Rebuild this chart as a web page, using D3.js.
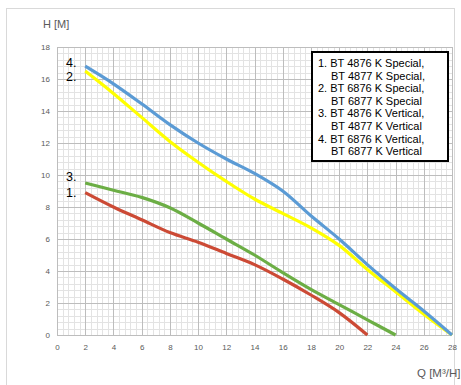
<!DOCTYPE html>
<html>
<head>
<meta charset="utf-8">
<script src="https://cdn.jsdelivr.net/npm/d3@7"></script>
<style>
  body { margin: 0; background: #fff; }
  svg { display: block; font-family: "Liberation Sans", Arial, sans-serif; }
</style>
</head>
<body>
<div id="container"></div>
<script>
// <--------- data --------->
let flowTicks = d3.range(0, 29, 2);
let headTicks = d3.range(0, 19, 2);

let curve1 = [[2, 8.9], [4, 8.0], [6, 7.2], [8, 6.4], [10, 5.8], [12, 5.1], [14, 4.4], [16, 3.5], [18, 2.5], [20, 1.4], [22, 0]];
let curve2 = [[2, 16.5], [4, 15.1], [6, 13.6], [8, 12.1], [10, 10.8], [12, 9.6], [14, 8.5], [16, 7.6], [18, 6.7], [20, 5.6], [22, 4.1], [24, 2.7], [26, 1.3], [28, 0]];
let curve3 = [[2, 9.5], [4, 9.05], [6, 8.6], [8, 7.95], [10, 7.0], [12, 6.0], [14, 5.0], [16, 3.9], [18, 2.85], [20, 1.9], [22, 0.95], [24, 0]];
let curve4 = [[2, 16.8], [4, 15.7], [6, 14.45], [8, 13.15], [10, 12.0], [12, 11.0], [14, 10.1], [16, 9.0], [18, 7.45], [20, 6.0], [22, 4.4], [24, 2.9], [26, 1.5], [28, 0]];

let legendLines = [
  "1. BT 4876 K Special,",
  "BT 4877 K Special,",
  "2. BT 6876 K Special,",
  "BT 6877 K Special",
  "3. BT 4876 K Vertical,",
  "BT 4877 K Vertical",
  "4. BT 6876 K Vertical,",
  "BT 6877 K Vertical"
];

let series = [
  { name: "1.", data: curve1, color: "#cc4a35" },
  { name: "3.", data: curve3, color: "#6cae45" },
  { name: "2.", data: curve2, color: "#ffff00" },
  { name: "4.", data: curve4, color: "#5b9bd5" }
];

// <--------- canvas --------->
let W = 461, H = 385;
let viz = d3.select("#container").append("svg")
  .attr("width", W)
  .attr("height", H);

viz.append("rect")
  .attr("x", 6.5).attr("y", 8.5)
  .attr("width", 448).attr("height", 390)
  .attr("fill", "#fff")
  .attr("stroke", "#d9d9d9");

let x = d3.scaleLinear().domain([0, 28]).range([57, 452]);
let y = d3.scaleLinear().domain([0, 18]).range([335, 47]);

// minor grid
let minorX = d3.range(0, 28.01, 0.4);
let minorY = d3.range(0, 18.01, 0.4);
let grid = viz.append("g");
grid.selectAll(".mx").data(minorX).enter().append("line")
  .attr("x1", d => Math.round(x(d)) + 0.5).attr("x2", d => Math.round(x(d)) + 0.5)
  .attr("y1", y(18)).attr("y2", y(0))
  .attr("stroke", "#e3e3e3");
grid.selectAll(".my").data(minorY).enter().append("line")
  .attr("y1", d => Math.round(y(d)) + 0.5).attr("y2", d => Math.round(y(d)) + 0.5)
  .attr("x1", x(0)).attr("x2", x(28))
  .attr("stroke", "#e3e3e3");

// major grid
grid.selectAll(".Mx").data(flowTicks).enter().append("line")
  .attr("x1", d => Math.round(x(d)) + 0.5).attr("x2", d => Math.round(x(d)) + 0.5)
  .attr("y1", y(18)).attr("y2", y(0))
  .attr("stroke", "#bdbdbd");
grid.selectAll(".My").data(headTicks).enter().append("line")
  .attr("y1", d => Math.round(y(d)) + 0.5).attr("y2", d => Math.round(y(d)) + 0.5)
  .attr("x1", x(0)).attr("x2", x(28))
  .attr("stroke", "#bdbdbd");

// axes (labels only)
let xAxis = viz.append("g")
  .attr("transform", "translate(0," + (y(0) + 6) + ")")
  .call(d3.axisBottom(x).tickValues(flowTicks).tickSize(0).tickPadding(3));
let yAxis = viz.append("g")
  .attr("transform", "translate(" + (x(0) - 7) + ",0)")
  .call(d3.axisLeft(y).tickValues(headTicks).tickSize(0).tickPadding(0));
[xAxis, yAxis].forEach(function(a) {
  a.select(".domain").remove();
  a.selectAll("text")
    .attr("fill", "#595959")
    .style("font-size", "8px")
    .style("font-family", "Liberation Sans, Arial, sans-serif");
});

// curves
let line = d3.line()
  .x(d => x(d[0]))
  .y(d => y(d[1]))
  .curve(d3.curveCatmullRom.alpha(0.5));

viz.selectAll(".curve").data(series).enter().append("path")
  .attr("class", "curve")
  .attr("d", d => line(d.data))
  .attr("fill", "none")
  .attr("stroke", d => d.color)
  .attr("stroke-width", 3.2);

// curve numbers
let numberPos = { "4.": 67, "2.": 81, "3.": 181, "1.": 197 };
viz.selectAll(".num").data(series).enter().append("text")
  .attr("x", 66)
  .attr("y", d => numberPos[d.name])
  .text(d => d.name)
  .style("font-size", "12.5px")
  .attr("fill", "#000");

// axis titles
viz.append("text")
  .attr("x", 43).attr("y", 28)
  .text("H [M]")
  .style("font-size", "11px")
  .attr("fill", "#595959");
viz.append("text")
  .attr("x", 417).attr("y", 377)
  .text("Q [M³/H]")
  .style("font-size", "11.5px")
  .attr("fill", "#595959");

// legend
viz.append("rect")
  .attr("x", 312).attr("y", 52)
  .attr("width", 136).attr("height", 109)
  .attr("fill", "#fff")
  .attr("stroke", "#000")
  .attr("stroke-width", 2);

viz.selectAll(".leg").data(legendLines).enter().append("text")
  .attr("x", (d, i) => i % 2 == 0 ? 318 : 331)
  .attr("y", (d, i) => 67 + i * 12.6)
  .text(d => d)
  .style("font-size", "11px")
  .attr("fill", "#000");
</script>
</body>
</html>
